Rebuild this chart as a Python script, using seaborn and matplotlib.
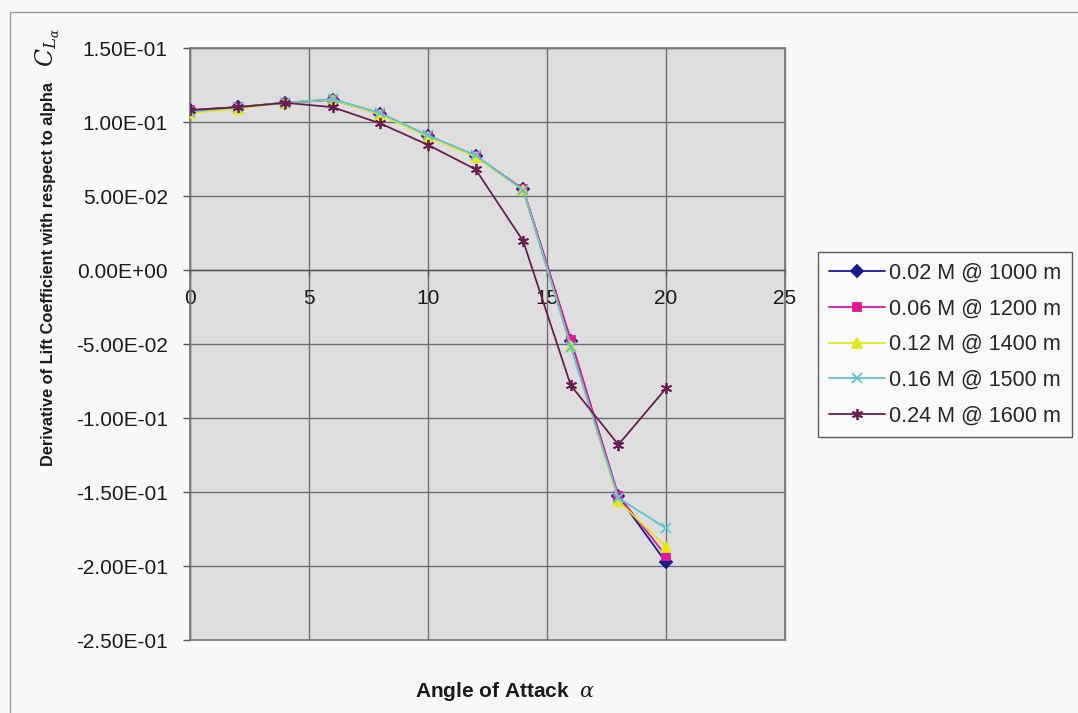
import numpy as np
import pandas as pd
import matplotlib
matplotlib.use("Agg")
import matplotlib.pyplot as plt
import seaborn as sns
from matplotlib.ticker import FuncFormatter
from matplotlib.patches import Rectangle

# ---------------- data ----------------
alpha = [0, 2, 4, 6, 8, 10, 12, 14, 16, 18, 20]
series_labels = ["0.02 M @ 1000 m", "0.06 M @ 1200 m", "0.12 M @ 1400 m",
                 "0.16 M @ 1500 m", "0.24 M @ 1600 m"]
cla_002 = [0.108, 0.110, 0.113, 0.1150, 0.1055, 0.0905, 0.0770, 0.0545, -0.0480, -0.1530, -0.1975]
cla_006 = [0.108, 0.110, 0.113, 0.1150, 0.1055, 0.0905, 0.0770, 0.0545, -0.0470, -0.1525, -0.1930]
cla_012 = [0.106, 0.109, 0.113, 0.1150, 0.1050, 0.0900, 0.0765, 0.0540, -0.0515, -0.1560, -0.1870]
cla_016 = [0.107, 0.110, 0.113, 0.1155, 0.1060, 0.0910, 0.0775, 0.0540, -0.0520, -0.1540, -0.1745]
cla_024 = [0.108, 0.110, 0.113, 0.1100, 0.0990, 0.0845, 0.0680, 0.0195, -0.0780, -0.1180, -0.0800]
x_ticks = [0, 5, 10, 15, 20, 25]
y_ticks = [0.15, 0.10, 0.05, 0.0, -0.05, -0.10, -0.15, -0.20, -0.25]

colors = ["#1a1a8c", "#e0189a", "#e6e61a", "#5cc4d6", "#6a1d50"]
markers = ["D", "s", "^", "x", (6, 2, 0)]
msizes = [6, 6, 7, 7, 8]

frames = []
for lab, vals in zip(series_labels, [cla_002, cla_006, cla_012, cla_016, cla_024]):
    frames.append(pd.DataFrame({"alpha": alpha, "cla": vals, "series": lab}))
df = pd.concat(frames, ignore_index=True)

# ---------------- style ----------------
sns.set_style("whitegrid")
plt.rcParams["font.family"] = ["Liberation Sans", "DejaVu Sans"]
plt.rcParams["mathtext.fontset"] = "dejavuserif"

fig = plt.figure(figsize=(10.78, 7.13), dpi=100, facecolor="#f8f9f9")
ax = fig.add_axes([190 / 1078, 1 - 640 / 713, (785 - 190) / 1078, (640 - 48) / 713])
ax.set_facecolor("#dedede")
ax.patch.set_edgecolor("#7a7a7a")
ax.patch.set_linewidth(1.2)

# outer chart border
fig.patches.append(Rectangle((10 / 1078, -0.01), 1.02, 1 - 12 / 713 + 0.01,
                             transform=fig.transFigure, fill=False,
                             edgecolor="#9a9a9a", linewidth=1.0, zorder=0))

for i, lab in enumerate(series_labels):
    sub = df[df["series"] == lab]
    sns.lineplot(data=sub, x="alpha", y="cla", ax=ax, color=colors[i],
                 marker=markers[i], markersize=msizes[i], linewidth=1.3,
                 markeredgecolor=colors[i], markeredgewidth=1.3,
                 label=lab, zorder=3 + i)

ax.set_xlim(0, 25)
ax.set_ylim(-0.25, 0.15)
ax.set_xticks(x_ticks)
ax.set_yticks(y_ticks)
ax.yaxis.set_major_formatter(FuncFormatter(lambda v, p: f"{v:.2E}"))
ax.grid(True, color="#6f6f6f", linewidth=1.0)
ax.set_axisbelow(True)

for s in ["top", "right", "left", "bottom"]:
    ax.spines[s].set_color("#7a7a7a")
    ax.spines[s].set_linewidth(1.0)
ax.spines["bottom"].set_position(("data", 0))
ax.spines["bottom"].set_color("#555555")

ax.tick_params(axis="x", bottom=True, length=4, width=1, color="#555555",
               pad=10, labelsize=15, labelcolor="#1a1a1a")
ax.tick_params(axis="y", left=True, length=5, width=1, color="#555555",
               pad=11, labelsize=15, labelcolor="#1a1a1a")

ax.set_xlabel(r"Angle of Attack  $\it{\alpha}$", fontsize=15, fontweight="bold",
              color="#1a1a1a")
ax.xaxis.set_label_coords((505 - 190) / 595, (640 - 680) / 592)
ax.set_ylabel("Derivative of Lift Coefficient with respect to alpha",
              fontsize=11.8, fontweight="bold", color="#1a1a1a")
ax.yaxis.set_label_coords((56 - 190) / 595, (640 - 274) / 592)
ax.text((48 - 190) / 595, (640 - 48) / 592, r"$C_{L_\alpha}$", transform=ax.transAxes,
        rotation=90, ha="center", va="center", fontsize=17, color="#1a1a1a")

leg = ax.legend(loc="upper left", bbox_to_anchor=(818 / 1078, 1 - 252 / 713),
                bbox_transform=fig.transFigure, borderaxespad=0, fancybox=False,
                frameon=True, fontsize=15.5, handlelength=2.6, labelspacing=0.68,
                borderpad=0.5, handletextpad=0.2)
leg.get_frame().set_edgecolor("#333333")
leg.get_frame().set_linewidth(1.0)
leg.get_frame().set_facecolor("#fbfbfb")

fig.savefig("out.png", dpi=100, facecolor=fig.get_facecolor())
